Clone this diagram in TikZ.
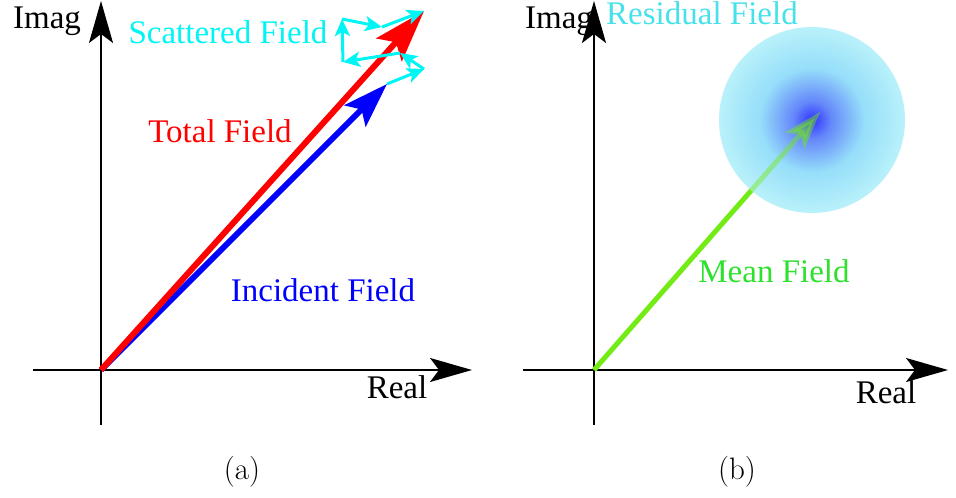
\documentclass[tikz,border=0pt]{standalone}
\usepackage{fontspec}
\newfontfamily\figfont{Liberation Serif}
\usetikzlibrary{arrows.meta}
\definecolor{scatcyan}{RGB}{0,245,245}
\definecolor{residcyan}{RGB}{70,225,235}
\definecolor{meangreen}{RGB}{45,225,45}
\definecolor{arrowlime}{RGB}{115,235,20}
\definecolor{blobcore}{RGB}{50,50,255}
\definecolor{blobinner}{RGB}{100,135,250}
\definecolor{blobmid}{RGB}{150,222,250}
\definecolor{blobouter}{RGB}{188,243,250}
\definecolor{blobrim}{RGB}{208,248,252}
\pgfdeclareradialshading{residual}{\pgfpoint{0bp}{0bp}}{color(0bp)=(blobcore); color(5bp)=(blobinner); color(14bp)=(blobmid); color(26bp)=(blobouter); color(47bp)=(blobrim); color(50bp)=(white)}
\begin{document}
\begin{tikzpicture}[x=1pt,y=1pt, every node/.style={font=\figfont\fontsize{33}{38}\selectfont, inner sep=0pt, anchor=base},
  axis/.style={line width=2pt, -{Stealth[length=42pt,width=24pt,inset=9pt]}},
  walk/.style={scatcyan, line width=3pt, -{Stealth[length=17pt,width=15pt,inset=4pt]}},
  meanarrow/.style={arrowlime, line width=5pt, -{Stealth[length=38pt,width=25pt,inset=8pt]}}]
  \useasboundingbox (0,0) rectangle (956,498);
  % (a)
  \coordinate (Oa) at (101,128);
  \coordinate (ya0) at (101,73);
  \coordinate (ya1) at (101,497);
  \coordinate (xa0) at (33,128);
  \coordinate (xa1) at (472,128);
  \draw[axis] (ya0) -- (ya1);
  \draw[axis] (xa0) -- (xa1);
  \coordinate (inc) at (387,414);
  \coordinate (tot) at (424,487);
  \coordinate (s1) at (424,429);
  \coordinate (s2) at (400,445);
  \coordinate (s3) at (343,436);
  \coordinate (s4) at (342,479);
  \coordinate (s5) at (382,471);
  \draw[blue, line width=6pt, -{Stealth[length=45pt,width=30pt,inset=9pt]}] (Oa) -- (inc);
  \draw[red, line width=6pt, -{Stealth[length=52pt,width=34pt,inset=10pt]}] (Oa) -- (tot);
  \foreach \a/\b in {inc/s1, s1/s2, s2/s3, s3/s4, s4/s5, s5/tot}
    \draw[walk] (\a) -- (\b);
  \node (imaga) at (47,469) {Imag};
  \node (reala) at (397,99) {Real};
  \node[scatcyan] (scat) at (228,454) {Scattered Field};
  \node[red] (total) at (220,355) {Total Field};
  \node[blue] (incident) at (323,196) {Incident Field};
  \node[font=\fontsize{31}{36}\selectfont] (capa) at (242,18) {(a)};
  % (b)
  \coordinate (Ob) at (594,128);
  \coordinate (yb0) at (594,73);
  \coordinate (yb1) at (594,497);
  \coordinate (xb0) at (523,128);
  \coordinate (xb1) at (948,128);
  \draw[axis] (yb0) -- (yb1);
  \draw[axis] (xb0) -- (xb1);
  \coordinate (blob) at (812,378);
  \coordinate (mean) at (820,386);
  \draw[meanarrow] (Ob) -- (mean);
  \shade[shading=residual] (blob) circle (93);
  \begin{scope}
    \clip (blob) circle (93);
    \draw[meanarrow, opacity=.45] (Ob) -- (mean);
  \end{scope}
  \node (imagb) at (559,469) {Imag};
  \node (realb) at (886,94) {Real};
  \node[residcyan] (resid) at (702,473) {Residual Field};
  \node[meangreen] (meanf) at (774,215) {Mean Field};
  \node[font=\fontsize{31}{36}\selectfont] (capb) at (737,18) {(b)};
\end{tikzpicture}
\end{document}
